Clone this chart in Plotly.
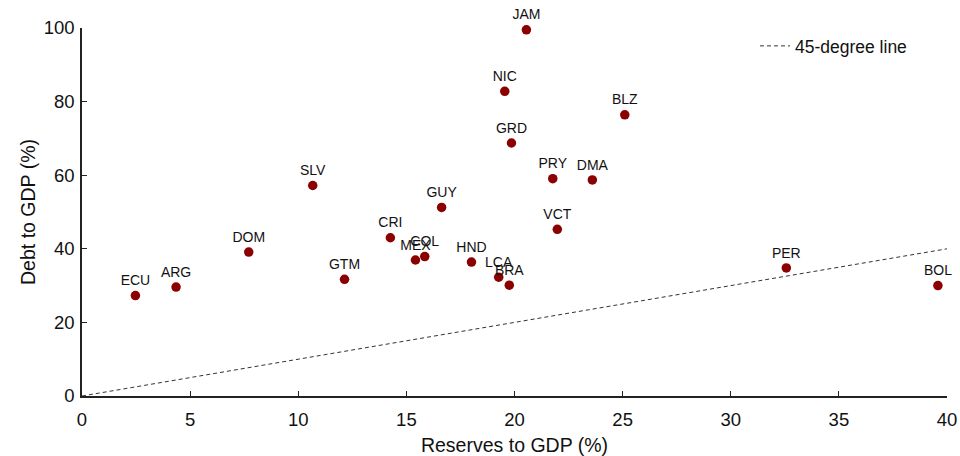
import plotly.graph_objects as go

countries = ["ECU", "ARG", "DOM", "GTM", "CRI", "MEX", "COL", "HND", "LCA", "BRA",
             "VCT", "PER", "BOL", "SLV", "JAM", "NIC", "BLZ", "GRD", "PRY", "DMA", "GUY"]
reserves = [2.47, 4.35, 7.71, 12.14, 14.26, 15.42, 15.85, 18.01, 19.27, 19.76,
            21.98, 32.57, 39.58, 10.67, 20.55, 19.55, 25.1, 19.86, 21.77, 23.6, 16.63]
debt = [27.3, 29.6, 39.1, 31.7, 43.0, 36.96, 37.9, 36.4, 32.3, 30.1,
        45.3, 34.8, 30.0, 57.2, 99.5, 82.8, 76.4, 68.75, 59.05, 58.7, 51.25]
line_x = [0, 40]
line_y = [0, 40]

FONT = "Liberation Sans, Arial, Helvetica, sans-serif"
AXC = "#222222"

fig = go.Figure()
fig.add_trace(go.Scatter(
    x=line_x, y=line_y, mode="lines", name="45-degree line",
    line=dict(color="#333333", width=1, dash="4px,3px"), showlegend=True,
    hoverinfo="skip"))
fig.add_trace(go.Scatter(
    x=reserves, y=debt, mode="markers+text", text=countries,
    textposition="top center", textfont=dict(size=14, color="#111111", family=FONT),
    marker=dict(size=9.5, color="#8b0000"), showlegend=False, cliponaxis=False))

fig.update_layout(
    width=960, height=456,
    margin=dict(l=82, r=13, t=28, b=60, autoexpand=False),
    plot_bgcolor="white", paper_bgcolor="white",
    font=dict(family=FONT, color="#111111", size=18),
    legend=dict(x=0.778, y=1.0, xanchor="left", yanchor="top",
                bgcolor="rgba(0,0,0,0)", font=dict(size=17.5, family=FONT)),
    xaxis=dict(range=[0, 40], tickvals=[0, 5, 10, 15, 20, 25, 30, 35, 40],
               showgrid=False, zeroline=False, showline=True, linecolor=AXC, linewidth=1.5,
               ticks="inside", ticklen=5, tickcolor=AXC, tickfont=dict(size=18.5),
               ticklabelstandoff=6, automargin=False,
               title=dict(text="Reserves to GDP (%)", font=dict(size=19.5), standoff=9)),
    yaxis=dict(range=[0, 100], tickvals=[0, 20, 40, 60, 80, 100],
               showgrid=False, zeroline=False, showline=True, linecolor=AXC, linewidth=1.5,
               ticks="inside", ticklen=5, tickcolor=AXC, tickfont=dict(size=18.5),
               ticklabelstandoff=2, automargin=False,
               title=dict(text="Debt to GDP (%)", font=dict(size=19.5), standoff=3)),
)

fig.write_html("out.html")
